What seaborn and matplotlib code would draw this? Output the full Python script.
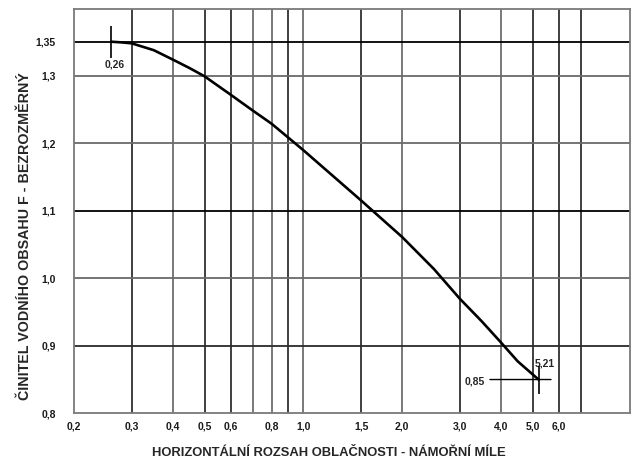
import matplotlib
matplotlib.use("Agg")
import matplotlib.pyplot as plt
import seaborn as sns
import pandas as pd

# Curve: water content factor F vs. horizontal cloud extent (nautical miles)
extent_nm = [0.26, 0.28, 0.3, 0.35, 0.4, 0.45, 0.5, 0.6, 0.7, 0.8, 0.9, 1.0,
             1.5, 2.0, 2.5, 3.0, 3.5, 4.0, 4.5, 5.21]
factor_f = [1.35, 1.349, 1.3476, 1.3375, 1.3236, 1.311, 1.2988, 1.2717, 1.2484,
            1.2287, 1.208, 1.1895, 1.115, 1.061, 1.0136, 0.9695, 0.936, 0.905,
            0.877, 0.85]

x_ticks = [0.2, 0.3, 0.4, 0.5, 0.6, 0.8, 1.0, 1.5, 2.0, 3.0, 4.0, 5.0, 6.0]
x_tick_labels = ["0,2", "0,3", "0,4", "0,5", "0,6", "0,8", "1,0", "1,5",
                 "2,0", "3,0", "4,0", "5,0", "6,0"]
y_ticks = [0.8, 0.9, 1.0, 1.1, 1.2, 1.3, 1.35]
y_tick_labels = ["0,8", "0,9", "1,0", "1,1", "1,2", "1,3", "1,35"]

# vertical grid lines (value, darker?)
x_grid = [0.3, 0.4, 0.5, 0.6, 0.7, 0.8, 0.9, 1.0, 1.5, 2.0, 3.0, 4.0, 5.0, 6.0, 7.0]
x_grid_dark = [True, False, True, True, False, False, True, False,
               True, False, True, False, True, True, True]
y_grid = [0.9, 1.0, 1.1, 1.2, 1.3, 1.35]
y_grid_color = ["#2a2a2a", "#6a6a6a", "#000000", "#6a6a6a", "#6a6a6a", "#000000"]

sns.set_theme(style="white")
plt.rcParams["font.family"] = ["Liberation Sans", "DejaVu Sans"]
plt.rcParams["font.weight"] = "bold"

fig = plt.figure(figsize=(6.37, 4.61), dpi=100)
ax = fig.add_axes([74 / 637, 1 - 413.3 / 461, (630 - 74) / 637, (413.3 - 9.3) / 461])

ax.set_xscale("log")
ax.set_xlim(0.2, 9.9)
ax.set_ylim(0.8, 1.398)

for xv, dark in zip(x_grid, x_grid_dark):
    ax.axvline(xv, color="#303030" if dark else "#6e6e6e", lw=1.3, zorder=1)
for yv, c in zip(y_grid, y_grid_color):
    ax.axhline(yv, color=c, lw=1.3, zorder=1)

df = pd.DataFrame({"extent": extent_nm, "F": factor_f})
sns.lineplot(data=df, x="extent", y="F", ax=ax, color="black", lw=1.9,
             estimator=None, zorder=3)

# end-point markers
x0, y0 = extent_nm[0], factor_f[0]
x1, y1 = extent_nm[-1], factor_f[-1]
ax.plot([x0], [y0], marker="|", markersize=23, markeredgewidth=1.2,
        color="black", zorder=4)
ax.annotate("0,26", xy=(x0, y0), xytext=(2.6, -16.5), textcoords="offset points",
            ha="center", va="center", fontsize=7.5, fontweight="bold")

ax.plot([x1], [y1], marker="|", markersize=20, markeredgewidth=1.2,
        color="black", zorder=4)
for dx in (-35, 9):
    ax.annotate("", xy=(x1, y1), xytext=(dx, 0), textcoords="offset points",
                arrowprops=dict(arrowstyle="-", lw=1.0, color="black",
                                shrinkA=0, shrinkB=0))
ax.annotate("5,21", xy=(x1, y1), xytext=(4.8, 11.3), textcoords="offset points",
            ha="center", va="center", fontsize=7.5, fontweight="bold")
ax.annotate("0,85", xy=(x1, y1), xytext=(-45.6, -1.5), textcoords="offset points",
            ha="center", va="center", fontsize=7.5, fontweight="bold")

ax.set_xticks(x_ticks)
ax.set_xticklabels(x_tick_labels)
ax.xaxis.set_minor_locator(matplotlib.ticker.NullLocator())
ax.set_yticks(y_ticks)
ax.set_yticklabels(y_tick_labels)
ax.tick_params(axis="both", length=0, labelsize=7.5, colors="#1a1a1a")
ax.tick_params(axis="x", pad=6)
ax.tick_params(axis="y", pad=13)
for lab in ax.get_xticklabels() + ax.get_yticklabels():
    lab.set_fontweight("bold")

for s in ax.spines.values():
    s.set_color("#7a7a7a")
    s.set_linewidth(1.3)

ax.set_xlabel("")
ax.set_ylabel("")
fig.text(25 / 637, 1 - 236 / 461, "ČINITEL VODNÍHO OBSAHU F - BEZROZMĚRNÝ",
         rotation=90, ha="center", va="center", fontsize=10.3, fontweight="bold")
fig.text(328.5 / 637, 1 - 452.7 / 461, "HORIZONTÁLNÍ ROZSAH OBLAČNOSTI - NÁMOŘNÍ MÍLE",
         ha="center", va="center", fontsize=9.4, fontweight="bold")

fig.savefig("out.png", dpi=100, facecolor="white")
